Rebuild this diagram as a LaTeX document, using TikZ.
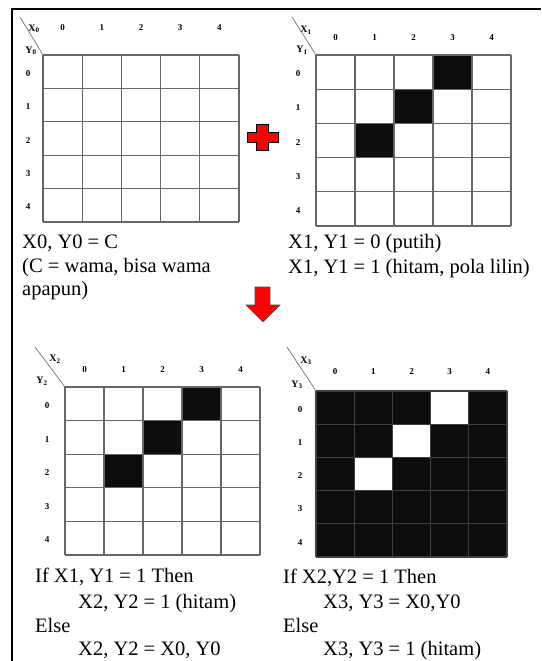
\documentclass[tikz,border=0pt]{standalone}
\usepackage{fontspec}
\setmainfont{Liberation Serif}
\newcommand{\pixgrid}[5]{% x0 y0 cw rh colour
  \foreach \i in {0,...,5} {
    \draw[gridline,draw=#5] ({#1+\i*#3},#2) -- ({#1+\i*#3},{#2+5*#4});
    \draw[gridline,draw=#5] (#1,{#2+\i*#4}) -- ({#1+5*#3},{#2+\i*#4});
  }}
\newcommand{\pixcell}[6]{% x0 y0 cw rh col row
  \fill[cellblack] ({#1+#5*#3},{#2+#6*#4}) rectangle ++(#3,#4);}
\newcommand{\pixlabels}[6]{% x0 y0 cw rh colLabelY rowLabelX
  \foreach \i in {0,...,4} {
    \node[axnum] at ({#1+(\i+0.5)*#3},#5) {\i};
    \node[axnum] at (#6,{#2+(\i+0.55)*#4}) {\i};
  }}
\begin{document}
\begin{tikzpicture}[x=1pt,y=-1pt,
  gridline/.style={line width=1.1pt},
  cellblack/.style={fill=black!95},
  caption/.style={anchor=base west,inner sep=0pt,font=\fontsize{20.5}{24}\selectfont},
  axnum/.style={font=\fontsize{9}{10}\selectfont\bfseries,inner sep=0pt},
  corner/.style={font=\fontsize{10}{10}\selectfont\bfseries,inner sep=0pt},
  diag/.style={draw=black!55,line width=0.7pt},
  redshape/.style={fill=red,draw=black,line width=0.9pt,line join=miter}]
\useasboundingbox (0,0) rectangle (541,661);
\fill[white] (0,0) rectangle (541,661);
\draw[line width=2pt] (12,661) -- (12,9) -- (541,9);

% ---------- grid 1 (top left) ----------
\pixgrid{43}{55}{39.2}{33.4}{black!60}
\pixlabels{43}{55}{39.2}{33.4}{28}{28}
\coordinate (g1c) at (43,55);
\coordinate (g1d) at (20,17);
\draw[diag] (g1d) -- (g1c);
\node[corner] (g1x) at (34,29) {X\textsubscript{0}};
\node[corner] (g1y) at (31,51) {Y\textsubscript{0}};
\node[caption] (t1a) at (22,248) {X0, Y0 = C};
\node[caption] (t1b) at (22,272) {(C = wama, bisa wama};
\node[caption] (t1c) at (22,295) {apapun)};

% ---------- grid 2 (top right) ----------
\pixcell{316}{55}{39}{34.2}{3}{0}
\pixcell{316}{55}{39}{34.2}{2}{1}
\pixcell{316}{55}{39}{34.2}{1}{2}
\pixgrid{316}{55}{39}{34.2}{black!60}
\pixlabels{316}{55}{39}{34.2}{38}{298}
\coordinate (g2c) at (316,55);
\coordinate (g2d) at (292,17);
\draw[diag] (g2d) -- (g2c);
\node[corner] (g2x) at (306,30) {X\textsubscript{1}};
\node[corner] (g2y) at (302,50) {Y\textsubscript{1}};
\node[caption] (t2a) at (288,248) {X1, Y1 = 0 (putih)};
\node[caption] (t2b) at (288,273) {X1, Y1 = 1 (hitam, pola lilin)};

% ---------- plus sign ----------
\draw[redshape] (256,124) -- (268,124) -- (268,132) -- (278,132) -- (278,142)
  -- (268,142) -- (268,150) -- (256,150) -- (256,142) -- (247,142) -- (247,132)
  -- (256,132) -- cycle;

% ---------- down arrow ----------
\draw[redshape,draw=black!70,line width=0.6pt] (255,287) -- (270,287) -- (270,305) -- (280,305)
  -- (263,322) -- (246,305) -- (255,305) -- cycle;

% ---------- grid 3 (bottom left) ----------
\pixcell{65}{387}{39}{33.6}{3}{0}
\pixcell{65}{387}{39}{33.6}{2}{1}
\pixcell{65}{387}{39}{33.6}{1}{2}
\pixgrid{65}{387}{39}{33.6}{black!60}
\pixlabels{65}{387}{39}{33.6}{370}{47}
\coordinate (g3c) at (65,387);
\coordinate (g3d) at (35,347);
\draw[diag] (g3d) -- (g3c);
\node[corner] (g3x) at (55,359) {X\textsubscript{2}};
\node[corner] (g3y) at (42,381) {Y\textsubscript{2}};
\node[caption] (t3a) at (35,582) {If X1, Y1 = 1 Then};
\node[caption] (t3b) at (78,608) {X2, Y2 = 1 (hitam)};
\node[caption] (t3c) at (35,632) {Else};
\node[caption] (t3d) at (78,655) {X2, Y2 = X0, Y0};

% ---------- grid 4 (bottom right) ----------
\fill[cellblack] (316,391) rectangle (507,557);
\fill[white] ({316+3*38.2},391) rectangle ++(38.2,33.2);
\fill[white] ({316+2*38.2},{391+33.2}) rectangle ++(38.2,33.2);
\fill[white] ({316+1*38.2},{391+2*33.2}) rectangle ++(38.2,33.2);
\pixgrid{316}{391}{38.2}{33.2}{black!75}
\pixlabels{316}{391}{38.2}{33.2}{372}{300}
\coordinate (g4c) at (316,391);
\coordinate (g4d) at (287,347);
\draw[diag] (g4d) -- (g4c);
\node[corner] (g4x) at (306,361) {X\textsubscript{3}};
\node[corner] (g4y) at (297,385) {Y\textsubscript{3}};
\node[caption] (t4a) at (283,583) {If X2,Y2 = 1 Then};
\node[caption] (t4b) at (323,608) {X3, Y3 = X0,Y0};
\node[caption] (t4c) at (283,632) {Else};
\node[caption] (t4d) at (323,655) {X3, Y3 = 1 (hitam)};
\end{tikzpicture}
\end{document}
